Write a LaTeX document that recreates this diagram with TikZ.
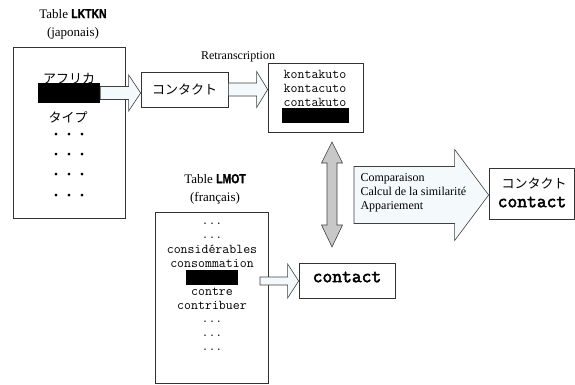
\documentclass[tikz,border=0pt]{standalone}
\usepackage{fontspec}
\setmainfont{Liberation Serif}
\newfontfamily\jpfont{Noto Sans CJK JP}
\newfontfamily\tabfont[FakeStretch=0.8,FakeBold=1.5]{Liberation Sans}
\newfontfamily\boldmono[FakeBold=2.5]{Latin Modern Mono}
\usepackage{xcolor}
\usepackage{tikz}
\usetikzlibrary{calc}

\definecolor{arrowfill}{HTML}{F4FAFC}
\definecolor{arrowgray}{HTML}{C8C8C8}

\newcommand{\tdots}{...}

% block arrow pointing right: style, start, tip, shaft half, head half, head length
\newcommand{\harrow}[6]{%
  \path[#1] let \p1=(#2), \p2=(#3) in
    (\x1,\y1-#4) -- (\x2-#6,\y1-#4) -- (\x2-#6,\y1-#5) -- (\x2,\y1)
    -- (\x2-#6,\y1+#5) -- (\x2-#6,\y1+#4) -- (\x1,\y1+#4) -- cycle;}

\tikzset{
  box/.style={draw=black!80, line width=0.7pt, fill=white, inner sep=0pt},
  blk/.style={draw=black!75, line width=0.6pt, fill=arrowfill},
  gblk/.style={draw=black!75, line width=0.6pt, fill=arrowgray},
  bar/.style={fill=black, draw=none, inner sep=0pt},
  ttl/.style={font=\fontsize{13}{18}\selectfont, align=center},
  lbl/.style={font=\fontsize{12}{14}\selectfont},
  mono/.style={font=\ttfamily\fontsize{13.5}{14}\selectfont},
  bmono/.style={font=\boldmono\fontsize{19}{20}\selectfont},
  jp/.style={font=\jpfont\fontsize{13}{15}\selectfont},
}

\begin{document}
\begin{tikzpicture}[x=1pt, y=-1pt]
\useasboundingbox (0,0) rectangle (575,385);

% table LKTKN
\node[ttl] (lktkntitle) at (73,24) {Table {\tabfont\bfseries LKTKN}\\(japonais)};
\node[box, minimum width=112pt, minimum height=171pt] (lktkn) at (69,132.5) {};
\node[jp] (afurika) at (69,79) {アフリカ};
\node[bar, minimum width=62pt, minimum height=20pt] (bar1) at (69,93) {};
\node[jp] (taipu) at (68,117) {タイプ};
\foreach \y [count=\i] in {136,156,176,197}
  \node[jp] (jdots\i) at (69,\y) {・・・};

% retranscription
\node[box, minimum width=87pt, minimum height=35pt, jp] (kata) at (184.5,89.5) {コンタクト};
\node[lbl] (retr) at (238,57) {Retranscription};
\node[box, minimum width=95pt, minimum height=69pt] (romaji) at (315.5,97.5) {};
\node[mono, align=center] (romtxt) at (315,88) {kontakuto\\kontacuto\\contakuto};
\node[bar, minimum width=67pt, minimum height=15pt] (bar2) at (315.5,115.5) {};

\harrow{blk}{bar1.east}{kata.west}{6.5pt}{18pt}{12pt}
\harrow{blk}{kata.east}{romaji.west}{6.5pt}{18pt}{11pt}

% table LMOT
\node[ttl] (lmottitle) at (215,189) {Table {\tabfont\bfseries LMOT}\\(français)};
\node[box, minimum width=113pt, minimum height=171pt] (lmot) at (211.5,297.5) {};
\foreach \t/\y [count=\i] in {\tdots/224, \tdots/238, considérables/249, consommation/263,
                              contre/292, contribuer/305, \tdots/322, \tdots/336, \tdots/350}
  \node[mono] (mot\i) at (212,\y) {\t};
\node[bar, minimum width=52pt, minimum height=15pt] (bar3) at (212,277.5) {};

\node[box, minimum width=96pt, minimum height=35pt] (fr) at (347,280.5) {};
\node[bmono] (frtxt) at (347,277) {contact};
\coordinate (frstart) at (260,281);
\harrow{blk}{frstart}{fr.west}{4pt}{17pt}{11pt}

% comparison
\coordinate (cmptop) at (332,142);
\coordinate (cmpbot) at (332,247);
\path[gblk] let \p1=(cmptop), \p2=(cmpbot) in
  (\x1,\y1) -- (\x1+10.5pt,\y1-21pt) -- (\x1+5pt,\y1-21pt) -- (\x1+5pt,\y2+22pt)
  -- (\x1+10.5pt,\y2+22pt) -- (\x2,\y2) -- (\x1-10.5pt,\y2+22pt) -- (\x1-5pt,\y2+22pt)
  -- (\x1-5pt,\y1-21pt) -- (\x1-10.5pt,\y1-21pt) -- cycle;

\node[box, minimum width=85pt, minimum height=51pt] (result) at (531.5,193.5) {};
\node[jp] (restop) at (534,183) {コンタクト};
\node[bmono] (resbot) at (532,202) {contact};
\coordinate (cmpstart) at (354,195);
\harrow{blk}{cmpstart}{result.west}{28.5pt}{45.5pt}{34pt}
\node[lbl, align=left, anchor=west] (cmptxt) at (357,193)
  {Comparaison\\Calcul de la similarité\\Appariement};
\end{tikzpicture}
\end{document}
